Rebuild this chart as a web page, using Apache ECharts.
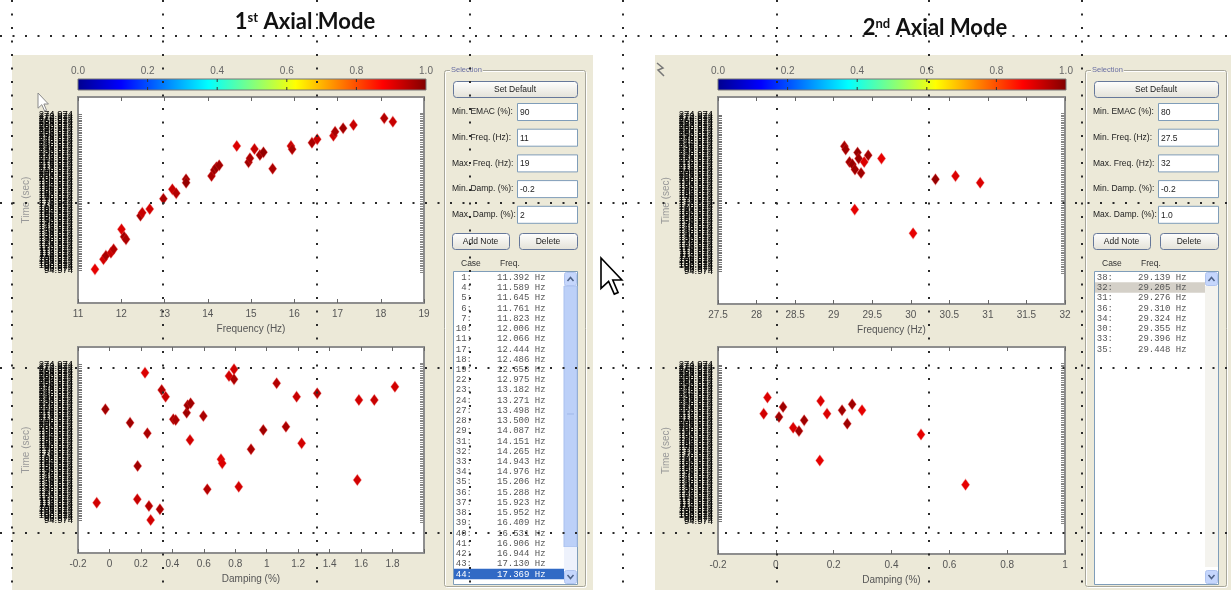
<!DOCTYPE html>
<html><head><meta charset="utf-8">
<script src="https://cdn.jsdelivr.net/npm/echarts@6/dist/echarts.min.js"></script>
<style>html,body{margin:0;padding:0;background:#fff}#c{width:1231px;height:590px}</style>
</head><body><div id="c"></div>
<script>
// ---------------- data ----------------
const mode1Freq = [11.392, 11.589, 11.645, 11.761, 11.823, 12.006, 12.066, 12.11, 12.444, 12.486, 12.658, 12.975, 13.182, 13.271, 13.498, 13.500, 14.087, 14.151, 14.20, 14.265, 14.67, 14.943, 14.976, 15.08, 15.206, 15.288, 15.50, 15.923, 15.952, 16.409, 16.531, 16.906, 16.944, 17.130, 17.369, 18.08, 18.28];
const mode1FreqTime = [96.0, 107.6, 111.8, 115.2, 119.2, 142.3, 133.8, 130.7, 158.1, 161.6, 165.8, 177.8, 188.6, 184.0, 200.2, 196.3, 204.0, 211.0, 214.1, 216.4, 238.8, 219.9, 224.5, 235.3, 228.3, 231.4, 212.5, 238.8, 235.0, 242.6, 246.5, 250.7, 255.3, 259.3, 263.1, 270.8, 266.9];
const mode1FreqEmac = [0.90, 0.92, 0.96, 0.93, 0.95, 0.91, 0.97, 0.96, 0.97, 0.93, 0.92, 0.96, 0.93, 0.95, 0.97, 0.98, 0.96, 0.97, 0.98, 0.97, 0.91, 0.97, 0.96, 0.93, 0.97, 0.98, 0.96, 0.93, 0.96, 0.96, 0.93, 0.93, 0.96, 0.97, 0.93, 0.95, 0.93];

const mode1Damp = [-0.081, -0.026, 0.131, 0.179, 0.177, 0.226, 0.241, 0.251, 0.262, 0.321, 0.332, 0.357, 0.406, 0.421, 0.491, 0.497, 0.516, 0.512, 0.597, 0.622, 0.709, 0.717, 0.760, 0.792, 0.792, 0.822, 0.900, 0.978, 1.063, 1.122, 1.190, 1.222, 1.321, 1.576, 1.586, 1.684, 1.815];
const mode1DampTime = [115.2, 223.4, 207.9, 157.7, 119.2, 265.8, 195.6, 111.4, 95.2, 107.6, 245.7, 238.0, 211.8, 211.0, 219.4, 228.0, 230.3, 187.8, 215.6, 130.7, 165.5, 160.8, 261.9, 269.7, 258.1, 133.8, 177.1, 199.4, 253.5, 203.2, 238.0, 184.0, 241.9, 141.5, 234.1, 234.1, 249.5];
const mode1DampEmac = [0.92, 0.97, 0.97, 0.97, 0.93, 0.91, 0.96, 0.95, 0.92, 0.96, 0.95, 0.93, 0.96, 0.96, 0.97, 0.97, 0.97, 0.92, 0.96, 0.95, 0.91, 0.91, 0.92, 0.92, 0.96, 0.92, 0.96, 0.97, 0.95, 0.96, 0.93, 0.92, 0.95, 0.92, 0.92, 0.93, 0.92];

const mode2Freq = [29.139, 29.156, 29.205, 29.243, 29.276, 29.310, 29.324, 29.355, 29.396, 29.448, 29.62, 29.273, 30.03, 30.32, 30.58, 30.90];
const mode2FreqTime = [238.8, 235.0, 220.6, 217.9, 212.1, 231.5, 224.5, 207.9, 220.6, 228.3, 224.5, 165.8, 138.4, 200.6, 204.4, 196.7];
const mode2FreqEmac = [0.97, 0.97, 0.97, 0.98, 0.97, 0.98, 0.97, 0.97, 0.91, 0.97, 0.90, 0.90, 0.90, 0.98, 0.91, 0.91];

const mode2Damp = [-0.042, -0.029, 0.011, 0.025, 0.060, 0.080, 0.098, 0.152, 0.155, 0.177, 0.229, 0.247, 0.264, 0.298, 0.502, 0.656];
const mode2DampTime = [218.7, 237.3, 214.8, 226.4, 202.5, 198.6, 211.0, 164.7, 233.3, 218.7, 222.6, 207.2, 229.5, 222.6, 194.8, 136.9];
const mode2DampEmac = [0.92, 0.91, 0.97, 0.97, 0.91, 0.97, 0.97, 0.90, 0.91, 0.91, 0.97, 0.97, 0.97, 0.90, 0.90, 0.90];

const mode1ListCases = ['1', '4', '5', '6', '7', '10', '11', '17', '18', '19', '22', '23', '24', '27', '28', '29', '31', '32', '33', '34', '35', '36', '37', '38', '39', '40', '41', '42', '43', '44'];
const mode1ListFreq = [11.392, 11.589, 11.645, 11.761, 11.823, 12.006, 12.066, 12.444, 12.486, 12.658, 12.975, 13.182, 13.271, 13.498, 13.500, 14.087, 14.151, 14.265, 14.943, 14.976, 15.206, 15.288, 15.923, 15.952, 16.409, 16.531, 16.906, 16.944, 17.130, 17.369];
const mode2ListCases = ['38', '32', '31', '36', '34', '30', '33', '35'];
const mode2ListFreq = [29.139, 29.205, 29.276, 29.310, 29.324, 29.355, 29.396, 29.448];

const fieldLabels = ['Min. EMAC (%):', 'Min. Freq. (Hz):', 'Max. Freq. (Hz):', 'Min. Damp. (%):', 'Max. Damp. (%):'];
const mode1Fields = ['90', '11', '19', '-0.2', '2'];
const mode2Fields = ['80', '27.5', '32', '-0.2', '1.0'];
const colorbarTicks = [0.0, 0.2, 0.4, 0.6, 0.8, 1.0];
const jet = ['#00008F', '#0000FF', '#0080FF', '#00FFFF', '#80FF80', '#FFFF00', '#FF8000', '#FF0000', '#800000'];

// time tick labels on the (crowded) time axes, every 2 s
const timeTicks = [];
for (let t = 92.974; t <= 277; t += 2) timeTicks.push(+t.toFixed(3));

// ---------------- layout ----------------
const grids = [
  {left: 78, top: 97, width: 346, height: 206},
  {left: 78, top: 347, width: 346, height: 206},
  {left: 718, top: 97, width: 347, height: 207},
  {left: 718, top: 347, width: 347, height: 207}
];
const xCfg = [
  {min: 11, max: 19, interval: 1, name: 'Frequency (Hz)'},
  {min: -0.2, max: 2.0, interval: 0.2, name: 'Damping (%)', hideMax: true},
  {min: 27.5, max: 32, interval: 0.5, name: 'Frequency (Hz)'},
  {min: -0.2, max: 1.0, interval: 0.2, name: 'Damping (%)'}
];
const TMIN = 57, TMAX = 295.5;
const fontSans = 'Liberation Sans, Arial, sans-serif';
const fmtNum = v => String(+(+v).toFixed(2));

const xAxis = [], yAxis = [];
xCfg.forEach((c, i) => {
  xAxis.push({
    type: 'value', gridIndex: i, min: c.min, max: c.max, interval: c.interval,
    name: c.name, nameLocation: 'middle', nameGap: 21,
    nameTextStyle: {color: '#555', fontSize: 10, fontFamily: fontSans},
    axisLine: {show: false, onZero: false}, splitLine: {show: false},
    axisTick: {inside: true, length: 4, lineStyle: {color: '#666'}},
    axisLabel: {color: '#555', fontSize: 10, fontFamily: fontSans, margin: 6,
      formatter: v => (c.hideMax && Math.abs(v - c.max) < 1e-9) ? '' : fmtNum(v)}
  });
});
xCfg.forEach((c, i) => {
  xAxis.push({
    type: 'value', gridIndex: i, position: 'top', min: c.min, max: c.max, interval: c.interval,
    axisLine: {show: false, onZero: false}, splitLine: {show: false}, axisLabel: {show: false},
    axisTick: {inside: true, length: 4, lineStyle: {color: '#666'}}
  });
});
for (let i = 0; i < 4; i++) {
  yAxis.push({
    type: 'value', gridIndex: i, position: 'left', min: TMIN, max: TMAX,
    name: 'Time (sec)', nameLocation: 'middle', nameGap: 47,
    nameTextStyle: {color: '#999', fontSize: 10, fontFamily: fontSans},
    axisLine: {show: false, onZero: false}, splitLine: {show: false},
    axisTick: {inside: true, length: 4, customValues: timeTicks, lineStyle: {color: '#777'}},
    axisLabel: {customValues: timeTicks, color: '#000', fontSize: 9.5, fontFamily: fontSans, margin: 5,
      formatter: v => (+v).toFixed(3)}
  });
}
for (let i = 0; i < 4; i++) {
  yAxis.push({
    type: 'value', gridIndex: i, position: 'right', min: TMIN, max: TMAX,
    axisLine: {show: false, onZero: false}, splitLine: {show: false}, axisLabel: {show: false},
    axisTick: {inside: true, length: 4, customValues: timeTicks, lineStyle: {color: '#888'}}
  });
}

const zip3 = (a, b, c) => a.map((v, i) => [v, b[i], c[i]]);
const seriesData = [
  zip3(mode1Freq, mode1FreqTime, mode1FreqEmac),
  zip3(mode1Damp, mode1DampTime, mode1DampEmac),
  zip3(mode2Freq, mode2FreqTime, mode2FreqEmac),
  zip3(mode2Damp, mode2DampTime, mode2DampEmac)
];
const series = seriesData.map((d, i) => ({
  type: 'scatter', xAxisIndex: i, yAxisIndex: i, data: d,
  symbol: 'diamond', symbolSize: [8, 11],
  itemStyle: {opacity: 1, borderColor: 'rgba(235,40,40,0.35)', borderWidth: 1},
  emphasis: {disabled: true}, animation: false
}));

// ---------------- graphic (GUI panels, colourbars, guides) ----------------
const G = [];
const rect = (x, y, w, h, style, z, r) => G.push({type: 'rect', shape: {x, y, width: w, height: h, r: r || 0}, style, z: z == null ? 10 : z, silent: true});
const text = (x, y, t, style, z) => G.push({type: 'text', x, y, style: Object.assign({text: t, fontFamily: fontSans}, style), z: z == null ? 12 : z, silent: true});
const line = (x1, y1, x2, y2, style, z) => G.push({type: 'line', shape: {x1, y1, x2, y2}, style, z: z == null ? 11 : z, silent: true});
const poly = (pts, style, z) => G.push({type: 'polygon', shape: {points: pts}, style, z, silent: true});

// figure backgrounds
rect(12, 55, 581, 535, {fill: '#ECE9D8'}, -10);
rect(655, 55, 576, 535, {fill: '#ECE9D8'}, -10);

// titles
const titleRich = {
  n: {fontSize: 22, fontWeight: 'bold', fontFamily: 'Lato, Open Sans, sans-serif', fill: '#111'},
  s: {fontSize: 13, fontWeight: 'bold', fontFamily: 'Lato, Open Sans, sans-serif', fill: '#111', verticalAlign: 'top'}
};
text(305, 22, '{n|1}{s|st}{n| Axial Mode}', {align: 'center', verticalAlign: 'middle', rich: titleRich});
text(935, 28, '{n|2}{s|nd}{n| Axial Mode}', {align: 'center', verticalAlign: 'middle', rich: titleRich});

// colourbars
const jetGrad = () => new echarts.graphic.LinearGradient(0, 0, 1, 0, jet.map((c, i) => ({offset: i / (jet.length - 1), color: c})));
[78, 718].forEach(x0 => {
  const w = 348;
  rect(x0, 79, w, 11, {fill: jetGrad(), stroke: '#777', lineWidth: 1}, 5);
  colorbarTicks.forEach(v => {
    const x = x0 + v * w;
    if (v > 0 && v < 1) {
      line(x, 79, x, 82, {stroke: '#333', lineWidth: 1}, 6);
      line(x, 87, x, 90, {stroke: '#333', lineWidth: 1}, 6);
    }
    text(x, 71, v.toFixed(1), {align: 'center', verticalAlign: 'middle', fontSize: 10, fill: '#666'}, 6);
  });
});

// selection panels
function xpButton(x, y, w, h, label) {
  rect(x + 0.5, y + 0.5, w, h, {
    fill: new echarts.graphic.LinearGradient(0, 0, 0, 1, [{offset: 0, color: '#FFFFFF'}, {offset: 1, color: '#E3E1D7'}]),
    stroke: '#66789A', lineWidth: 1
  }, 10, 3);
  text(x + w / 2, y + h / 2 + 1, label, {align: 'center', verticalAlign: 'middle', fontSize: 8.5, fill: '#1a1a1a'});
}
function selectionPanel(bx, fields, cases, freqs, hiIdx, hiFill, hiText, scrollLeft) {
  rect(bx + 0.5, 70.5, 141, 516, {fill: 'none', stroke: '#A7A69A', lineWidth: 1}, 9, 2);
  rect(bx + 1.5, 71.5, 141, 516, {fill: 'none', stroke: '#FFFFFF', lineWidth: 1}, 8, 2);
  text(bx + 6, 70, 'Selection', {align: 'left', verticalAlign: 'middle', fontSize: 7.5, fill: '#6a6fa3', backgroundColor: '#ECE9D8', padding: [0, 1]});
  xpButton(bx + 9, 81, 124, 16, 'Set Default');
  fieldLabels.forEach((lab, i) => {
    const y = 103 + i * 25.7;
    text(bx + 8, y + 9, lab, {align: 'left', verticalAlign: 'middle', fontSize: 8.5, fill: '#222'});
    rect(bx + 73.5, y + 0.5, 60, 17, {fill: '#FFFFFF', stroke: '#7F9DB9', lineWidth: 1});
    text(bx + 76, y + 9.5, fields[i], {align: 'left', verticalAlign: 'middle', fontSize: 8.5, fill: '#222'});
  });
  xpButton(bx + 8, 233, 57, 16, 'Add Note');
  xpButton(bx + 75, 233, 58, 16, 'Delete');
  text(bx + 17, 264, 'Case', {align: 'left', verticalAlign: 'middle', fontSize: 8.5, fill: '#333'});
  text(bx + 56, 264, 'Freq.', {align: 'left', verticalAlign: 'middle', fontSize: 8.5, fill: '#333'});
  rect(bx + 9.5, 271.5, 124, 313, {fill: '#FFFFFF', stroke: '#7F9DB9', lineWidth: 1});
  const sx = bx + 120;
  if (scrollLeft) {
    rect(sx, 286, 13, 261, {fill: '#BCD0F8', stroke: '#A9C0EE', lineWidth: 1});
    rect(sx, 547, 13, 23, {fill: '#EEF2FC'});
    line(sx + 3, 414, sx + 10, 414, {stroke: '#9FB7E8', lineWidth: 1});
  } else {
    rect(sx, 286, 13, 281, {fill: '#F4F3EE'});
  }
  [272, 570].forEach((y, k) => {
    rect(sx + 0.5, y + 0.5, 12, 13, {fill: '#C5D6FC', stroke: '#B0C4F0', lineWidth: 1}, 10, 2);
    const cy = y + 7;
    const pts = k === 0 ? [[sx + 3.5, cy + 2], [sx + 6.5, cy - 1.5], [sx + 9.5, cy + 2]] : [[sx + 3.5, cy - 2], [sx + 6.5, cy + 1.5], [sx + 9.5, cy - 2]];
    G.push({type: 'polyline', shape: {points: pts}, style: {stroke: '#4D6185', lineWidth: 1.5, fill: 'none'}, z: 11, silent: true});
  });
  cases.forEach((c, i) => {
    const y = 277 + i * 10.23;
    let col = '#555';
    if (i === hiIdx) {
      rect(bx + 10, y - 5, 110, 10.5, {fill: hiFill});
      col = hiText;
    }
    text(bx + 28, y + 0.5, c + ':', {align: 'right', verticalAlign: 'middle', fontSize: 9, fontFamily: 'Liberation Mono, monospace', fill: col});
    text(bx + 53, y + 0.5, freqs[i].toFixed(3) + ' Hz', {align: 'left', verticalAlign: 'middle', fontSize: 9, fontFamily: 'Liberation Mono, monospace', fill: col});
  });
}
selectionPanel(444, mode1Fields, mode1ListCases, mode1ListFreq, 29, '#316AC5', '#FFFFFF', true);
selectionPanel(1085, mode2Fields, mode2ListCases, mode2ListFreq, 1, '#D4D0C8', '#555', false);

// PowerPoint guide dots
const guideH = [36, 203, 368, 533];
const guideV = [12, 163, 317, 470, 623, 777, 929, 1082];
guideH.forEach(y => line(0, y, 1231, y, {stroke: '#2a2a2a', lineWidth: 2, lineDash: [2, 10.5]}, 50));
guideV.forEach(x => line(x, 0, x, 590, {stroke: '#2a2a2a', lineWidth: 2, lineDash: [2, 11.5]}, 50));

// mouse cursors
const arrow = (x, y, s) => [[0, 0], [0, 16], [4, 12.3], [7, 19], [9, 18.2], [6.2, 11.6], [11, 11.6]].map(p => [x + p[0] * s, y + p[1] * s]);
poly(arrow(601, 258, 1.9), {fill: '#FFFFFF', stroke: '#000000', lineWidth: 1.6}, 60);
poly(arrow(38, 93, 0.95), {fill: '#FFFFFF', stroke: '#8a8a8a', lineWidth: 1}, 60);
G.push({type: 'polyline', shape: {points: [[657, 63], [663, 68], [658, 70], [664, 76]]}, style: {stroke: '#777', lineWidth: 1.5, fill: 'none'}, z: 60, silent: true});

// ---------------- chart ----------------
const chart = echarts.init(document.getElementById('c'), null, {renderer: 'canvas'});
chart.setOption({
  animation: false,
  backgroundColor: '#FFFFFF',
  grid: grids.map(g => Object.assign({show: true, backgroundColor: '#FFFFFF', borderColor: '#8E8E8E', borderWidth: 2, containLabel: false}, g)),
  xAxis, yAxis,
  visualMap: {type: 'continuous', show: false, min: 0, max: 1, dimension: 2, seriesIndex: [0, 1, 2, 3], inRange: {color: jet}},
  series,
  graphic: {elements: G}
});
</script></body></html>
